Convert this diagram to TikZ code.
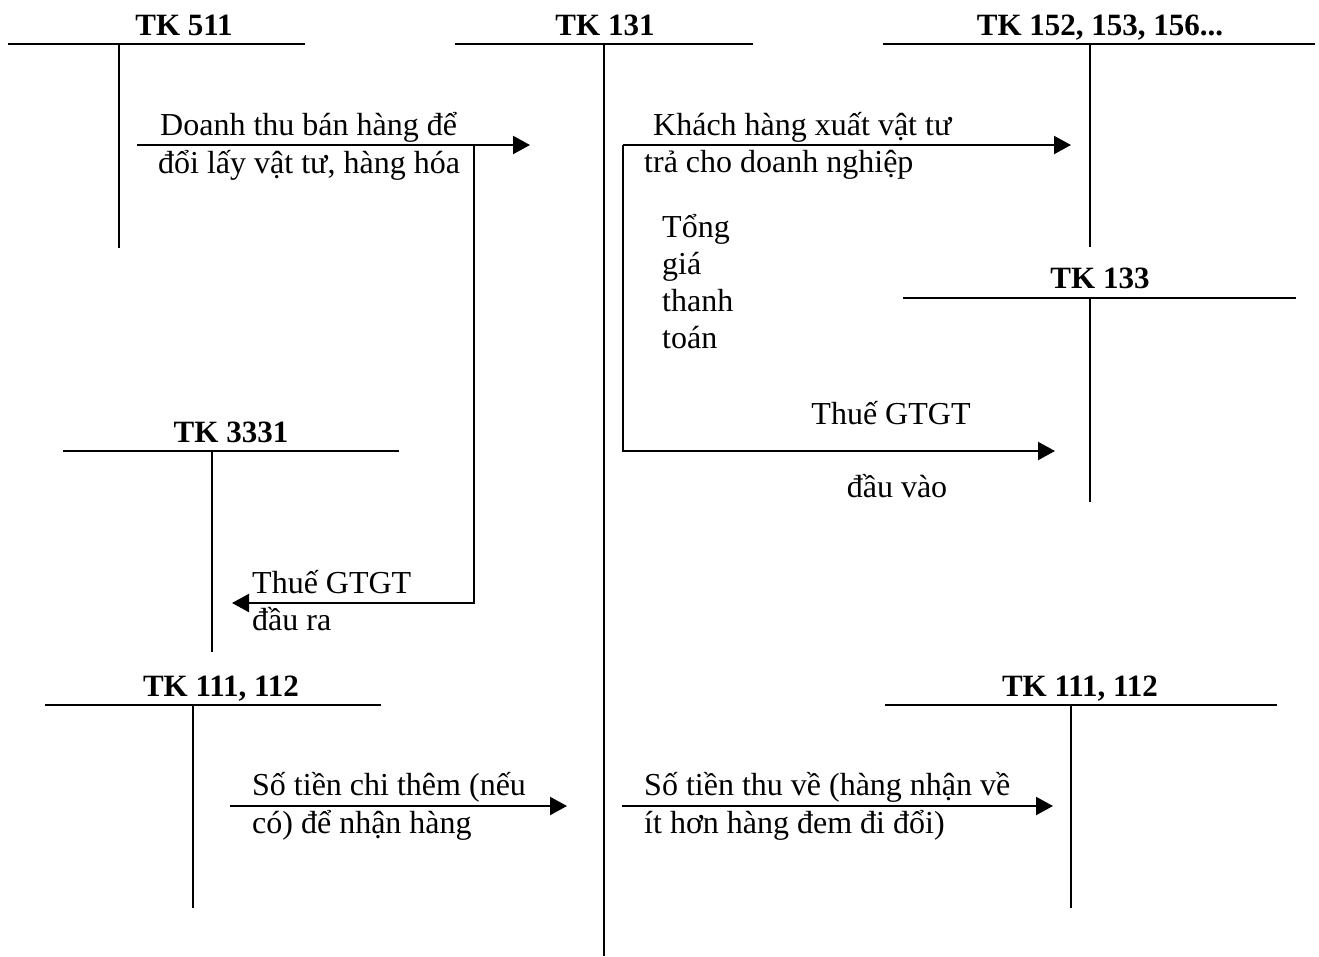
\documentclass[tikz,border=0pt]{standalone}
\usepackage{fontspec}
\setmainfont{Liberation Serif}
\usetikzlibrary{arrows.meta,positioning}
\begin{document}
\begin{tikzpicture}[x=1pt,y=-1pt,{acct/.style={font=\fontsize{31}{36}\selectfont\bfseries,anchor=base,inner sep=0}},{txt/.style={font=\fontsize{32}{37}\selectfont,anchor=base west,inner sep=0}},{tline/.style={line width=1.6pt}},{flow/.style={line width=2.2pt,line join=miter,-{Triangle[length=17pt,width=18pt]}}}]
	\useasboundingbox (0,0) rectangle (1319,956);

	%%T accounts (top bar, then stem)
	\draw [tline] (8,44) -- (305,44);  \draw [tline] (119,44) -- (119,248);
	\node [acct] (tk511) at (184,35) {TK 511};

	\draw [tline] (455,44) -- (753,44);  \draw [tline] (604,44) -- (604,956);
	\node [acct] (tk131) at (605,35) {TK 131};

	\draw [tline] (883,44) -- (1315,44);  \draw [tline] (1090,44) -- (1090,247);
	\node [acct] (tk152) at (1100,35) {TK 152, 153, 156...};

	\draw [tline] (903,298) -- (1296,298);  \draw [tline] (1090,298) -- (1090,502);
	\node [acct] (tk133) at (1100,288) {TK 133};

	\draw [tline] (63,451) -- (399,451);  \draw [tline] (212,451) -- (212,652);
	\node [acct] (tk3331) at (231,442) {TK 3331};

	\draw [tline] (45,705) -- (381,705);  \draw [tline] (193,705) -- (193,908);
	\node [acct] (tk111a) at (221,696) {TK 111, 112};

	\draw [tline] (885,705) -- (1277,705);  \draw [tline] (1071,705) -- (1071,908);
	\node [acct] (tk111b) at (1080,696) {TK 111, 112};

	%%arrow end points
	\coordinate (A) at (137,145);
	\coordinate (B) at (530,145);
	\coordinate (C) at (474,145);
	\coordinate (D) at (232,603);
	\coordinate (E) at (623,145);
	\coordinate (F) at (1071,145);
	\coordinate (G) at (1055,451);
	\coordinate (H) at (230,806);
	\coordinate (I) at (567,806);
	\coordinate (J) at (622,806);
	\coordinate (K) at (1053,806);

	%%flows
	\draw [flow] (A) -- (B);
	\draw [flow] (C) |- (D);
	\draw [flow] (E) -- (F);
	\draw [flow] (E) |- (G);
	\draw [flow] (H) -- (I);
	\draw [flow] (J) -- (K);

	%%labels
	\node [txt] (dt1) at (160,135) {Doanh thu bán hàng để};
	\node [txt] (dt2) at (158,173) {đổi lấy vật tư, hàng hóa};
	\node [txt] (kh1) at (653,135) {Khách hàng xuất vật tư};
	\node [txt] (kh2) at (644,172) {trả cho doanh nghiệp};
	\node [txt] (tg1) at (662,237) {Tổng};
	\node [txt] (tg2) at (662,274) {giá};
	\node [txt] (tg3) at (662,311) {thanh};
	\node [txt] (tg4) at (662,348) {toán};
	\node [txt,anchor=base] (vt1) at (891,424) {Thuế GTGT};
	\node [txt,anchor=base] (vt2) at (897,497) {đầu vào};
	\node [txt] (rt1) at (252,593) {Thuế GTGT};
	\node [txt] (rt2) at (252,630) {đầu ra};
	\node [txt] (ct1) at (252,795) {Số tiền chi thêm (nếu};
	\node [txt] (ct2) at (252,833) {có) để nhận hàng};
	\node [txt] (tv1) at (644,795) {Số tiền thu về (hàng nhận về};
	\node [txt] (tv2) at (644,833) {ít hơn hàng đem đi đổi)};
\end{tikzpicture}
\end{document}
